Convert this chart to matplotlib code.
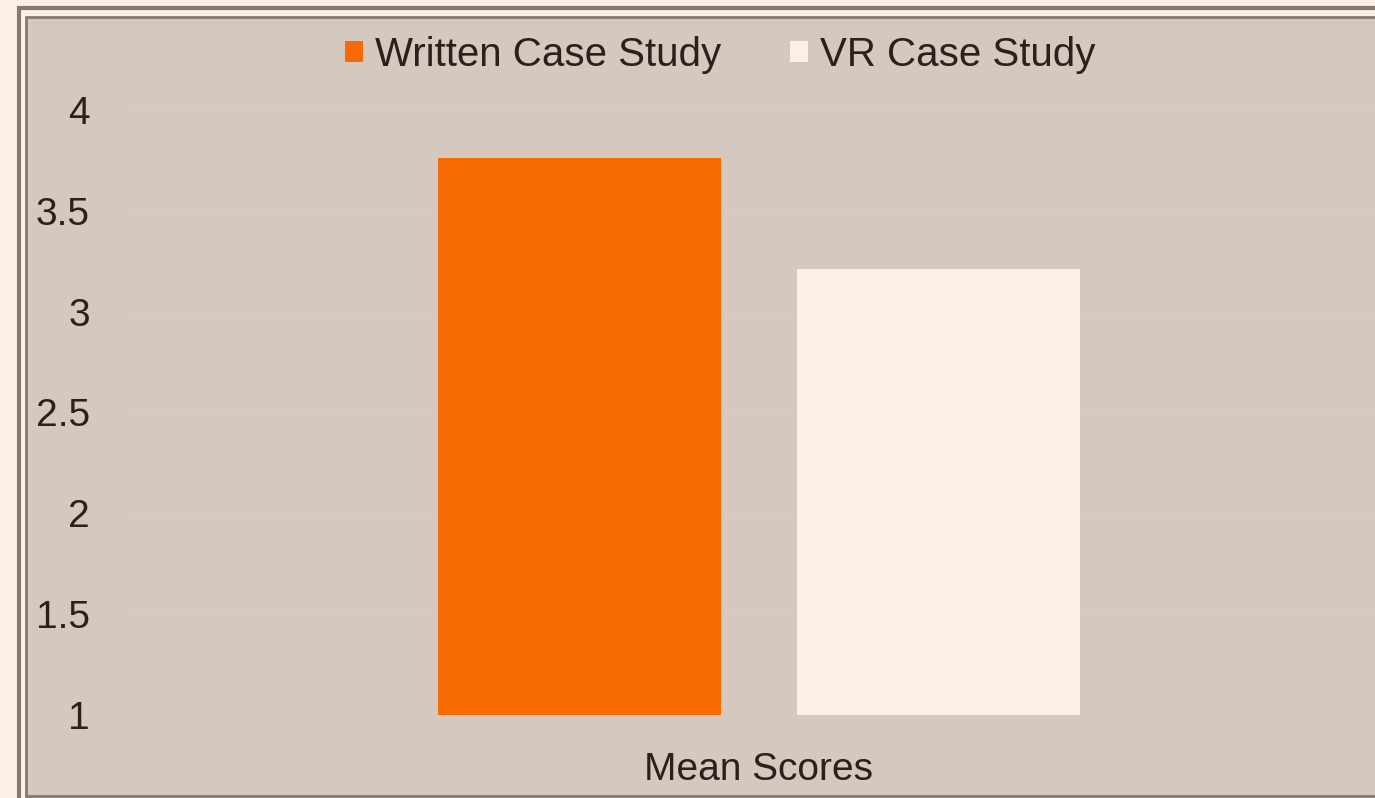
import matplotlib
matplotlib.use('Agg')
import matplotlib.pyplot as plt
from matplotlib.patches import Rectangle
import numpy as np

# 데이터
category = 'Mean Scores'
series = ['Written Case Study', 'VR Case Study']
means = [3.76, 3.21]
yticks = [1, 1.5, 2, 2.5, 3, 3.5, 4]
ytick_labels = ['1', '1.5', '2', '2.5', '3', '3.5', '4']

bar_colors = ['#f66a00', '#fcefe6']
bg = '#d4c8bf'
page = '#fdf0e8'
frame = '#857a72'
text_color = '#2a211c'

plt.rcParams['font.family'] = ['Liberation Sans', 'DejaVu Sans']

W, H = 1375, 798
fig = plt.figure(figsize=(W / 100, H / 100), dpi=100)
fig.patch.set_facecolor(page)

# 바깥 테두리 (이중선)
fig.patches.append(Rectangle((19 / W, -0.05), 1.1, (H - 8) / H + 0.05, transform=fig.transFigure,
                             facecolor=page, edgecolor=frame, linewidth=3, zorder=-2))
fig.patches.append(Rectangle((26 / W, (H - 796) / H), 1.1, (796 - 17) / H, transform=fig.transFigure,
                             facecolor=bg, edgecolor=frame, linewidth=2, zorder=-1))

ax = fig.add_axes([130 / W, (H - 715) / H, (1388 - 130) / W, (715 - 110) / H])
ax.set_facecolor('none')
ax.set_zorder(1)

width = 0.45
offsets = [-0.285, 0.285]
for i in range(len(series)):
    ax.bar(offsets[i], means[i] - 1, width, bottom=1, color=bar_colors[i],
           label=series[i], zorder=3)

ax.set_xlim(-1, 1)
ax.set_ylim(1, 4)
ax.set_yticks(yticks)
ax.set_yticklabels(ytick_labels, fontsize=28, color=text_color)
ax.set_xticks([0])
ax.set_xticklabels([category], fontsize=28, color=text_color)
ax.tick_params(axis='y', length=0, pad=29)
ax.tick_params(axis='x', length=0, pad=27)
for s in ax.spines.values():
    s.set_visible(False)
ax.grid(axis='y', color='#d8cdc4', linewidth=1.0, zorder=1)

leg = fig.legend(loc='center', bbox_to_anchor=(720 / W, (H - 55) / H), ncol=2, frameon=False,
                 fontsize=29, handlelength=0.45, handleheight=0.45, handletextpad=0.3,
                 columnspacing=1.7, labelcolor=text_color)
leg.set_zorder(2)

fig.savefig('out.png', dpi=100, facecolor=page)
